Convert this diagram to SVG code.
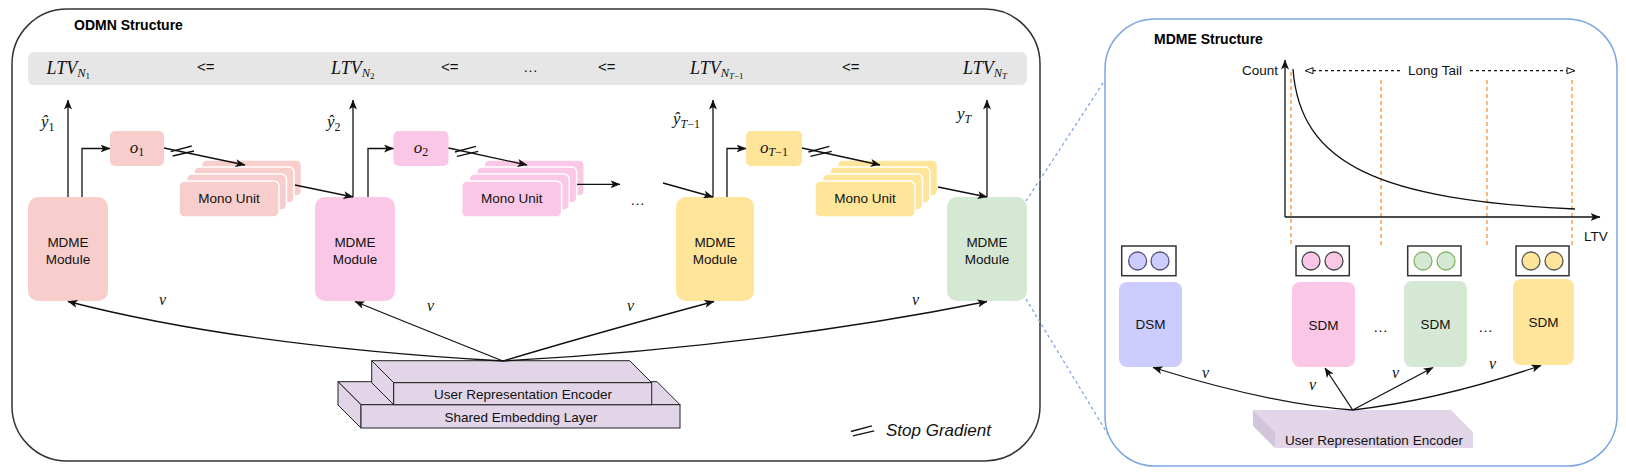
<svg xmlns="http://www.w3.org/2000/svg" width="1626" height="474" viewBox="0 0 1626 474">
<defs>
<style>
.panel{fill:#fff;stroke:#333;stroke-width:1.5}
.rpanel{fill:#fff;stroke:#7ea6e0;stroke-width:1.5}
.bar{fill:#e6e6e6}
.title{font-family:"Liberation Sans",Arial,sans-serif;font-weight:bold;font-size:14px;fill:#000}
.lbl{font-family:"Liberation Sans",Arial,sans-serif;font-size:13.5px;fill:#111;text-anchor:middle}
.op{font-family:"Liberation Sans",Arial,sans-serif;font-size:15px;fill:#111}
.math{font-family:"Liberation Serif","Times New Roman",serif;font-style:italic;fill:#111}
.up{font-style:normal}
.arr{fill:none;stroke:#111;stroke-width:1.3;marker-end:url(#ah)}
.ln{fill:none;stroke:#111;stroke-width:1.3}
.red{fill:#f8cecc}.pink{fill:#fac8e6}.yel{fill:#ffe599}.grn{fill:#d5e8d4}.blu{fill:#ccccff}
.layer{stroke:#fff;stroke-width:1.5}
.orange{stroke:#f7a24f;stroke-width:1.5;stroke-dasharray:4 3;fill:none}
.zoomln{stroke:#7ea6e0;stroke-width:1.3;stroke-dasharray:3 3;fill:none}
.cube{fill:#e1d5e7;stroke:#222;stroke-width:1}
.cube2{fill:#e1d5e7;stroke:none}
.side2{fill:#d2c4da;stroke:none}
.sg{stroke:#111;stroke-width:1.3}
.cbox{fill:#fff;stroke:#333;stroke-width:1.5}
</style>
<marker id="ah" viewBox="0 0 10 8" refX="9.5" refY="4" markerWidth="10" markerHeight="8" markerUnits="userSpaceOnUse" orient="auto"><path d="M0,0 L10,4 L0,8 L2.5,4 z" fill="#111"/></marker>
<marker id="oa" viewBox="0 0 10 8" refX="9" refY="4" markerWidth="10" markerHeight="8" markerUnits="userSpaceOnUse" orient="auto"><path d="M1,1 L9,4 L1,7 z" fill="#fff" stroke="#111" stroke-width="1"/></marker>
<g id="sgm"><line x1="-11.6" y1="0.5" x2="9.4" y2="-5.2"/><line x1="-9.6" y1="4.8" x2="11.7" y2="-0.2"/></g>
</defs>

<!-- LEFT PANEL -->
<g id="odmn-panel">
<rect class="panel" x="12" y="9" width="1028" height="452" rx="55"/>
<text class="title" x="74" y="30">ODMN Structure</text>
</g>

<g id="ltv-bar">
<rect class="bar" x="28" y="52" width="999" height="33" rx="6"/>
<text class="math" x="46.5" y="74" font-size="18">LTV<tspan font-size="12.5" dy="3">N</tspan><tspan class="up" font-size="9" dy="2">1</tspan></text>
<text class="op" x="197" y="72">&lt;=</text>
<text class="math" x="331" y="74" font-size="18">LTV<tspan font-size="12.5" dy="3">N</tspan><tspan class="up" font-size="9" dy="2">2</tspan></text>
<text class="op" x="441" y="72">&lt;=</text>
<text class="op" x="523" y="72">…</text>
<text class="op" x="598" y="72">&lt;=</text>
<text class="math" x="690" y="74" font-size="18">LTV<tspan font-size="12.5" dy="3">N</tspan><tspan font-size="9" dy="2">T</tspan><tspan class="up" font-size="9">−1</tspan></text>
<text class="op" x="842" y="72">&lt;=</text>
<text class="math" x="963" y="74" font-size="18">LTV<tspan font-size="12.5" dy="3">N</tspan><tspan font-size="9" dy="2">T</tspan></text>
</g>

<g id="mdme1">
<rect class="red" x="28" y="197" width="80" height="104" rx="10"/>
<text class="lbl" x="68" y="247">MDME</text>
<text class="lbl" x="68" y="264">Module</text>
</g>
<g id="mdme2">
<rect class="pink" x="315" y="197" width="80" height="104" rx="10"/>
<text class="lbl" x="355" y="247">MDME</text>
<text class="lbl" x="355" y="264">Module</text>
</g>
<g id="mdme3">
<rect class="yel" x="676" y="197" width="78" height="104" rx="10"/>
<text class="lbl" x="715" y="247">MDME</text>
<text class="lbl" x="715" y="264">Module</text>
</g>
<g id="mdme4">
<rect class="grn" x="947" y="197" width="80" height="104" rx="10"/>
<text class="lbl" x="987" y="247">MDME</text>
<text class="lbl" x="987" y="264">Module</text>
</g>

<g id="o1">
<rect class="red" x="110" y="131" width="54" height="35" rx="5"/>
<text class="math" x="137" y="153" font-size="17" text-anchor="middle">o<tspan class="up" font-size="12" dy="3">1</tspan></text>
</g>
<g id="o2">
<rect class="pink" x="393.5" y="131" width="55" height="35" rx="5"/>
<text class="math" x="421" y="153" font-size="17" text-anchor="middle">o<tspan class="up" font-size="12" dy="3">2</tspan></text>
</g>
<g id="o3">
<rect class="yel" x="746" y="131" width="56" height="35" rx="5"/>
<text class="math" x="774" y="153" font-size="17" text-anchor="middle">o<tspan font-size="12" dy="3">T</tspan><tspan class="up" font-size="12">−1</tspan></text>
</g>

<g id="mono1">
<rect class="red layer" x="201.5" y="160" width="100" height="36" rx="5"/>
<rect class="red layer" x="194" y="167" width="100" height="36" rx="5"/>
<rect class="red layer" x="186.5" y="174" width="100" height="36" rx="5"/>
<rect class="red layer" x="179" y="181" width="100" height="36" rx="5"/>
<text class="lbl" x="229" y="203">Mono Unit</text>
</g>
<g id="mono2">
<rect class="pink layer" x="484.2" y="160" width="100" height="36" rx="5"/>
<rect class="pink layer" x="476.7" y="167" width="100" height="36" rx="5"/>
<rect class="pink layer" x="469.2" y="174" width="100" height="36" rx="5"/>
<rect class="pink layer" x="461.7" y="181" width="100" height="36" rx="5"/>
<text class="lbl" x="511.7" y="203">Mono Unit</text>
</g>
<g id="mono3">
<rect class="yel layer" x="837.5" y="160" width="100" height="36" rx="5"/>
<rect class="yel layer" x="830" y="167" width="100" height="36" rx="5"/>
<rect class="yel layer" x="822.5" y="174" width="100" height="36" rx="5"/>
<rect class="yel layer" x="815" y="181" width="100" height="36" rx="5"/>
<text class="lbl" x="865" y="203">Mono Unit</text>
</g>

<g id="dots-row">
<text class="op" x="630" y="205">…</text>
</g>

<g id="encoder-stack">
<polygon class="cube" points="338,381.7 657,381.7 680,404.7 361,404.7"/>
<polygon class="cube" points="338,381.7 361,404.7 361,428 338,405"/>
<rect class="cube" x="361" y="404.7" width="319" height="23.3"/>
<polygon class="cube" points="371.7,360.7 629.7,360.7 651.7,382.7 393.7,382.7"/>
<polygon class="cube" points="371.7,360.7 393.7,382.7 393.7,404.7 371.7,382.7"/>
<rect class="cube" x="393.7" y="382.7" width="258" height="22"/>
<text class="lbl" x="523" y="398.5">User Representation Encoder</text>
<text class="lbl" x="521" y="421.5">Shared Embedding Layer</text>
</g>

<g id="legend">
<use href="#sgm" class="sg" x="862.5" y="431"/>
<text x="886" y="436" font-family="'Liberation Sans',Arial,sans-serif" font-style="italic" font-size="17" fill="#111">Stop Gradient</text>
</g>

<g id="connectors-left">
<path class="arr" d="M68,197 V100"/>
<path class="arr" d="M82,197 V148.5 H110"/>
<path class="arr" d="M353,197 V100"/>
<path class="arr" d="M368,197 V148.5 H393.5"/>
<path class="arr" d="M713,197 V100"/>
<path class="arr" d="M727,197 V148.5 H746"/>
<path class="arr" d="M987,197 V100"/>
<path class="arr" d="M164,148 L245,165"/>
<path class="arr" d="M295,185 L353,197"/>
<path class="arr" d="M448.5,148 L527,165"/>
<path class="arr" d="M577,184.3 L620,184.3"/>
<path class="arr" d="M663,183 L713,197"/>
<path class="arr" d="M802,148 L880,165"/>
<path class="arr" d="M938,187 L987,197"/>
<use href="#sgm" class="sg" x="182.3" y="151.2"/>
<use href="#sgm" class="sg" x="466.5" y="151.5"/>
<use href="#sgm" class="sg" x="820" y="151.5"/>
<path class="arr" d="M503,361 Q240,346 68,301.5"/>
<path class="arr" d="M503,361 Q425,330 355,301.5"/>
<path class="arr" d="M503,361 Q600,332 714,301.5"/>
<path class="arr" d="M503,361 Q766,346 987,301.5"/>
<path class="zoomln" d="M1026,201 L1105,80"/>
<path class="zoomln" d="M1026,299 L1112,441"/>
</g>

<g id="left-labels">
<text class="math" x="41" y="127" font-size="17">ŷ<tspan class="up" font-size="12" dy="4">1</tspan></text>
<text class="math" x="327" y="127" font-size="17">ŷ<tspan class="up" font-size="12" dy="4">2</tspan></text>
<text class="math" x="673" y="124" font-size="17">ŷ<tspan font-size="12" dy="4">T</tspan><tspan class="up" font-size="12">−1</tspan></text>
<text class="math" x="957" y="119" font-size="17">y<tspan font-size="12" dy="4">T</tspan></text>
<text class="math" x="159" y="305" font-size="16">v</text>
<text class="math" x="427" y="311" font-size="16">v</text>
<text class="math" x="627" y="311" font-size="16">v</text>
<text class="math" x="912" y="305" font-size="16">v</text>
</g>

<!-- RIGHT PANEL -->
<g id="mdme-panel">
<rect class="rpanel" x="1105" y="19" width="512" height="447" rx="50"/>
<text class="title" x="1154" y="44">MDME Structure</text>
</g>

<g id="chart">
<path class="orange" d="M1291,72 V245"/>
<path class="orange" d="M1381,80 V245"/>
<path class="orange" d="M1487,80 V245"/>
<path class="orange" d="M1572,80 V245"/>
<path class="arr" d="M1285,217 V60"/>
<path class="arr" d="M1285,217 H1600"/>
<path class="ln" d="M1293,69 C1300,165 1380,200 1575,209"/>
<path d="M1400,70.7 H1305" fill="none" stroke="#111" stroke-width="1.2" stroke-dasharray="3 3" marker-end="url(#oa)"/>
<path d="M1470,70.7 H1575" fill="none" stroke="#111" stroke-width="1.2" stroke-dasharray="3 3" marker-end="url(#oa)"/>
<text class="lbl" x="1435" y="75">Long Tail</text>
<text class="lbl" x="1278" y="75" text-anchor="end" style="text-anchor:end">Count</text>
<text class="lbl" x="1596" y="241">LTV</text>
</g>

<g id="dsm">
<rect class="cbox" x="1121.7" y="246" width="54.3" height="29.7"/>
<circle cx="1137.6" cy="261" r="9" fill="#ccccff" stroke="#56517e" stroke-width="1.3"/>
<circle cx="1160" cy="261" r="9" fill="#ccccff" stroke="#56517e" stroke-width="1.3"/>
<rect class="blu" x="1119" y="282" width="63" height="85" rx="8"/>
<text class="lbl" x="1150.5" y="329">DSM</text>
</g>
<g id="sdm1">
<rect class="cbox" x="1296" y="246" width="53.3" height="29.7"/>
<circle cx="1311" cy="261" r="9" fill="#fac8e6" stroke="#444" stroke-width="1.3"/>
<circle cx="1334" cy="261" r="9" fill="#fac8e6" stroke="#444" stroke-width="1.3"/>
<rect class="pink" x="1292" y="282" width="63" height="85" rx="8"/>
<text class="lbl" x="1323.5" y="330">SDM</text>
</g>
<g id="sdm2">
<rect class="cbox" x="1407.7" y="246" width="53.3" height="29.7"/>
<circle cx="1423" cy="261" r="9" fill="#d5e8d4" stroke="#82b366" stroke-width="1.3"/>
<circle cx="1446" cy="261" r="9" fill="#d5e8d4" stroke="#82b366" stroke-width="1.3"/>
<rect class="grn" x="1404" y="281" width="63" height="86" rx="8"/>
<text class="lbl" x="1435.5" y="329">SDM</text>
</g>
<g id="sdm3">
<rect class="cbox" x="1516" y="246" width="53" height="29.7"/>
<circle cx="1531" cy="261" r="9" fill="#ffe599" stroke="#555" stroke-width="1.3"/>
<circle cx="1554" cy="261" r="9" fill="#ffe599" stroke="#555" stroke-width="1.3"/>
<rect class="yel" x="1513" y="279" width="61" height="86" rx="8"/>
<text class="lbl" x="1543.5" y="327">SDM</text>
</g>
<g id="dots-right">
<text class="op" x="1373" y="332">…</text>
<text class="op" x="1478" y="332">…</text>
</g>

<g id="encoder-right">
<polygon class="cube2" points="1253,410 1451,410 1473,432 1275,432"/>
<polygon class="side2" points="1253,410 1275,432 1275,448 1253,426"/>
<rect class="cube2" x="1275" y="432" width="198" height="16"/>
<text class="lbl" x="1374" y="445">User Representation Encoder</text>
</g>

<g id="connectors-right">
<path class="arr" d="M1352.7,410 Q1270,404 1153,367.5"/>
<path class="arr" d="M1352.7,410 L1325,368"/>
<path class="arr" d="M1352.7,410 L1433,367.5"/>
<path class="arr" d="M1352.7,410 Q1440,400 1541,365.5"/>
<text class="math" x="1202" y="378" font-size="16">v</text>
<text class="math" x="1309" y="390" font-size="16">v</text>
<text class="math" x="1392" y="378" font-size="16">v</text>
<text class="math" x="1489" y="369" font-size="16">v</text>
</g>
</svg>
